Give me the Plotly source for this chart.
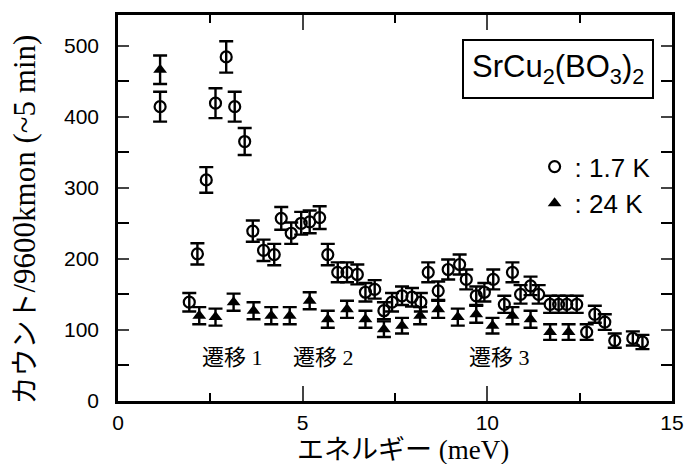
import plotly.graph_objects as go

# 1.7 K (open circles)
x_17 = [1.14, 1.93, 2.15, 2.39, 2.64, 2.93, 3.16, 3.43, 3.65, 3.94, 4.23, 4.42, 4.69,
        4.96, 5.19, 5.46, 5.68, 5.95, 6.2, 6.48, 6.7, 6.95, 7.2, 7.42, 7.69, 7.96,
        8.2, 8.4, 8.67, 8.94, 9.25, 9.43, 9.7, 9.92, 10.16, 10.46, 10.68, 10.9,
        11.17, 11.39, 11.7, 11.93, 12.15, 12.42, 12.69, 12.91, 13.18, 13.45, 13.94, 14.2]
y_17 = [414, 139, 207, 311, 419, 484, 414, 365, 239, 212, 206, 257, 236,
        250, 252, 258, 206, 181, 181, 178, 153, 157, 127, 139, 148, 146,
        139, 181, 155, 185, 192, 171, 148, 153, 171, 136, 181, 150,
        162, 150, 136, 136, 136, 136, 97, 122, 111, 85, 88, 83]
e_17 = [21, 13, 15, 18, 21, 22, 21, 19, 15, 15, 15, 16, 15,
        16, 16, 16, 15, 14, 14, 14, 13, 13, 12, 13, 13, 13,
        13, 14, 13, 14, 14, 14, 13, 13, 14, 12, 14, 13,
        13, 13, 12, 12, 12, 12, 11, 12, 11, 10, 10, 10]

# 24 K (filled triangles)
x_24 = [1.14, 2.2, 2.64, 3.13, 3.67, 4.15, 4.65, 5.19, 5.68, 6.2, 6.7, 7.2, 7.69,
        8.18, 8.67, 9.2, 9.7, 10.14, 10.68, 11.17, 11.7, 12.2]
y_24 = [466, 120, 118, 139, 127, 120, 120, 141, 115, 129, 115, 101, 106,
        120, 129, 118, 122, 106, 120, 115, 97, 97]
e_24 = [20, 12, 12, 12, 12, 12, 12, 12, 12, 12, 12, 11, 11,
        12, 12, 12, 12, 11, 12, 12, 11, 11]

labels_x = [3.09, 5.56, 10.32]
labels_y = [61, 61, 61]
labels_t = ["遷移 1", "遷移 2", "遷移 3"]

serif = "Liberation Serif, Noto Sans CJK JP, serif"
sans = "Liberation Sans, Arial, sans-serif"

fig = go.Figure()
fig.add_trace(go.Scatter(
    x=x_17, y=y_17, mode="markers", name=": 1.7 K",
    marker=dict(symbol="circle-open", size=11, color="black", line=dict(width=2.2, color="black")),
    error_y=dict(type="data", array=e_17, color="black", thickness=2.4, width=7),
))
fig.add_trace(go.Scatter(
    x=x_24, y=y_24, mode="markers", name=": 24 K",
    marker=dict(symbol="triangle-up", size=12, color="black"),
    error_y=dict(type="data", array=e_24, color="black", thickness=2.4, width=7),
))

for lx, ly, lt in zip(labels_x, labels_y, labels_t):
    fig.add_annotation(x=lx, y=ly, text=lt, showarrow=False,
                       xanchor="center", yanchor="middle",
                       font=dict(family=serif, size=22, color="black"))

fig.add_annotation(xref="paper", yref="paper", x=0.794, y=0.859,
                   xanchor="center", yanchor="middle",
                   text="SrCu<sub>2</sub>(BO<sub>3</sub>)<sub>2</sub>", showarrow=False,
                   font=dict(family=sans, size=31, color="black"),
                   bordercolor="black", borderwidth=2, borderpad=8, bgcolor="white")

# axis titles
fig.add_annotation(xref="paper", yref="paper", x=0.515, y=-0.127,
                   xanchor="center", yanchor="middle",
                   text="エネルギー (meV)", showarrow=False,
                   font=dict(family=serif, size=27, color="black"))
fig.add_annotation(xref="paper", yref="paper", x=-0.168, y=0.47, textangle=-90,
                   xanchor="center", yanchor="middle",
                   text="カウント<span style='font-size:31px'>/9600kmon (~5 min)</span>",
                   showarrow=False,
                   font=dict(family=serif, size=28, color="black"))

fig.update_layout(
    width=696, height=464,
    margin=dict(l=118, r=18, t=12, b=63),
    plot_bgcolor="white", paper_bgcolor="white",
    showlegend=True,
    legend=dict(x=0.752, y=0.668, xanchor="left", yanchor="top",
                font=dict(family=sans, size=26, color="black"),
                bgcolor="rgba(0,0,0,0)"),
    font=dict(family=sans, color="black"),
)
fig.update_xaxes(range=[0, 15], dtick=5, tick0=0, ticks="inside", ticklen=15, tickwidth=2,
                 showline=True, linewidth=2.5, linecolor="black", mirror="ticks",
                 showgrid=False, zeroline=False, ticklabelstandoff=1,
                 tickfont=dict(family=sans, size=21, color="black"),
                 minor=dict(dtick=2.5, ticks="inside", ticklen=8, tickwidth=2, tickcolor="black"))
fig.update_yaxes(range=[0, 543], dtick=100, tick0=0, ticks="inside", ticklen=11, tickwidth=2,
                 showline=True, linewidth=2.5, linecolor="black", mirror="ticks",
                 showgrid=False, zeroline=False, ticklabelstandoff=12,
                 tickfont=dict(family=sans, size=21, color="black"),
                 minor=dict(dtick=50, ticks="inside", ticklen=11, tickwidth=2, tickcolor="black"))

fig.write_html("out.html", config={"displayModeBar": False},
               post_script="document.body.style.margin='0';document.body.style.overflow='hidden';")
